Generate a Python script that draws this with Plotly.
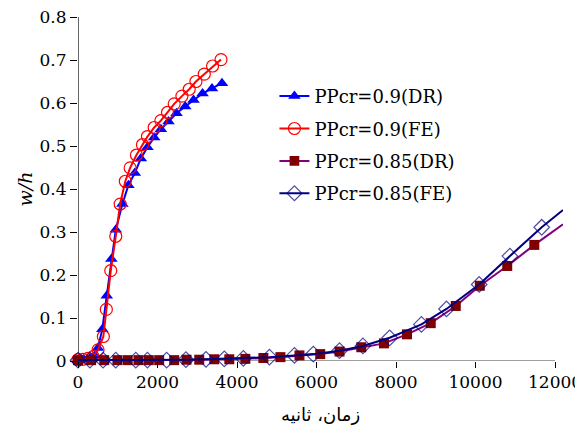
import plotly.graph_objects as go

# PPcr=0.9 (DR)
t_dr09 = [0, 150, 300, 420, 500, 612, 723, 839, 950, 1117, 1268, 1429, 1581, 1747, 1916, 2085,
          2276, 2478, 2697, 2906, 3133, 3370, 3622]
w_dr09 = [0.002, 0.003, 0.006, 0.012, 0.030, 0.074, 0.152, 0.237, 0.305, 0.365, 0.409, 0.437,
          0.471, 0.497, 0.520, 0.539, 0.557, 0.576, 0.592, 0.607, 0.622, 0.634, 0.646]

# PPcr=0.9 (FE)
t_fe09 = [0, 120, 250, 380, 504, 638, 713, 824, 950, 1060, 1190, 1311, 1470, 1621, 1747, 1916,
          2085, 2251, 2420, 2614, 2798, 2967, 3176, 3385, 3597]
w_fe09 = [0.003, 0.004, 0.006, 0.010, 0.026, 0.057, 0.120, 0.210, 0.290, 0.365, 0.418, 0.449,
          0.479, 0.503, 0.522, 0.543, 0.559, 0.578, 0.598, 0.616, 0.632, 0.650, 0.667, 0.686, 0.701]

# PPcr=0.85 (DR)
t_dr085 = [0, 330, 660, 991, 1250, 1520, 1780, 2042, 2420, 2730, 3050, 3428, 3806, 4210, 4663,
           5092, 5571, 6093, 6579, 7126, 7696, 8276, 8873, 9503, 10108, 10797, 11478, 12200]
w_dr085 = [0.002, 0.002, 0.002, 0.002, 0.002, 0.002, 0.002, 0.002, 0.002, 0.003, 0.003, 0.004,
           0.004, 0.005, 0.007, 0.009, 0.013, 0.016, 0.022, 0.032, 0.041, 0.062, 0.088, 0.128,
           0.175, 0.221, 0.270, 0.318]

# PPcr=0.85 (FE)
t_fe085 = [0, 300, 630, 950, 1454, 1747, 2230, 2715, 3219, 3680, 4160, 4815, 5445, 5920, 6579,
           7167, 7840, 8639, 9269, 10091, 10865, 11664, 12200]
w_fe085 = [0.002, 0.002, 0.002, 0.002, 0.002, 0.002, 0.002, 0.003, 0.004, 0.005, 0.006, 0.009,
           0.013, 0.016, 0.024, 0.035, 0.054, 0.085, 0.121, 0.178, 0.244, 0.311, 0.351]

x_ticks = [0, 2000, 4000, 6000, 8000, 10000, 12000]
y_ticks = [0, 0.1, 0.2, 0.3, 0.4, 0.5, 0.6, 0.7, 0.8]
X_MAX_AXIS = 12000

SERIF = "DejaVu Serif"


def sizes(xs, s):
    # hide markers that lie past the end of the drawn axis
    return [s if x <= X_MAX_AXIS else 0 for x in xs]


fig = go.Figure()
fig.add_trace(go.Scatter(
    x=t_dr09, y=w_dr09, mode="lines+markers", name="PPcr=0.9(DR)", legendgroup="a",
    line=dict(color="#0000FF", width=2),
    marker=dict(symbol="triangle-up", size=11, color="#0000FF", line=dict(width=0)),
    cliponaxis=False))
fig.add_trace(go.Scatter(
    x=t_fe09, y=w_fe09, mode="lines+markers", name="PPcr=0.9(FE)", legendgroup="b",
    line=dict(color="#FF0000", width=2),
    marker=dict(symbol="circle-open", size=12, color="#FF0000", line=dict(width=1.2)),
    cliponaxis=False))
fig.add_trace(go.Scatter(
    x=t_dr085, y=w_dr085, mode="lines+markers", name="PPcr=0.85(DR)", legendgroup="c",
    line=dict(color="#800080", width=2),
    marker=dict(symbol="square", size=sizes(t_dr085, 10), color="#800000",
                line=dict(width=0), opacity=1), cliponaxis=False))
fig.add_trace(go.Scatter(
    x=t_fe085, y=w_fe085, mode="lines+markers", name="PPcr=0.85(FE)", legendgroup="d",
    line=dict(color="#000080", width=2),
    marker=dict(symbol="diamond-open", size=sizes(t_fe085, 12), color="#000080",
                line=dict(width=1.2)), cliponaxis=False))

# axis lines drawn only up to the last labelled tick
fig.add_shape(type="line", xref="x", yref="y", x0=0, x1=X_MAX_AXIS, y0=0, y1=0,
              line=dict(color="#808080", width=1.5), layer="below")
fig.add_shape(type="line", xref="x", yref="y", x0=0, x1=0, y0=0, y1=0.8,
              line=dict(color="#000000", width=1.2), layer="below")

fig.update_layout(
    width=583, height=432,
    margin=dict(l=70, r=28, t=9, b=79, autoexpand=False),
    paper_bgcolor="white", plot_bgcolor="white",
    font=dict(family=SERIF, size=17, color="black"),
    showlegend=True,
    legend=dict(x=0.405, y=0.823, xanchor="left", yanchor="top",
                bgcolor="rgba(0,0,0,0)", font=dict(family=SERIF, size=18, color="black"),
                traceorder="grouped", tracegroupgap=6, itemwidth=30),
    xaxis=dict(range=[0, 12200], tickvals=x_ticks, ticktext=[str(v) for v in x_ticks],
               showgrid=False, zeroline=False, showline=False, automargin=False,
               ticks="outside", ticklen=6, tickcolor="black", tickwidth=1,
               ticklabeloverflow="allow",
               tickfont=dict(family=SERIF, size=17, color="black"),
               title=dict(text="زمان، ثانیه", font=dict(family="DejaVu Sans", size=18,
                                                          color="black"),
                          standoff=16)),
    yaxis=dict(range=[0, 0.8], tickvals=y_ticks, ticktext=[f"{v:g}" for v in y_ticks],
               showgrid=False, zeroline=False, showline=False, automargin=False,
               ticks="outside", ticklen=7, tickcolor="black", tickwidth=1,
               ticklabeloverflow="allow",
               tickfont=dict(family=SERIF, size=17, color="black"),
               title=dict(text="<i>w/h</i>", font=dict(family=SERIF, size=19, color="black"),
                          standoff=1)),
)

fig.write_html("out.html")
